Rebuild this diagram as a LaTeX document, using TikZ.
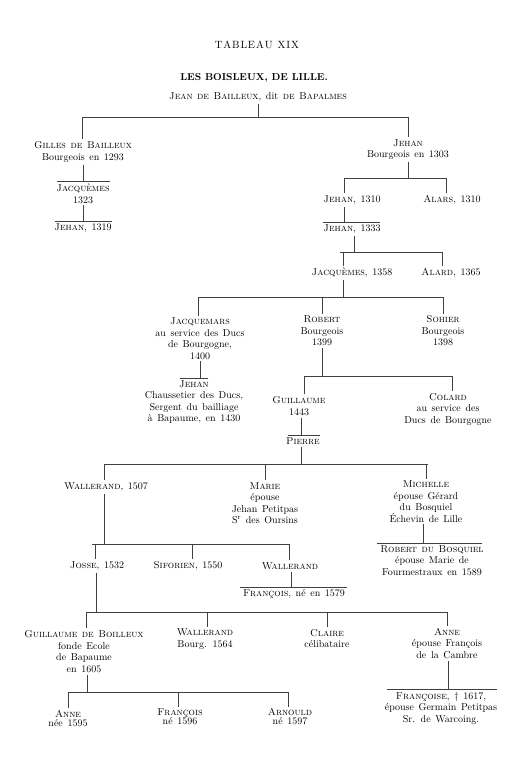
\documentclass[tikz,border=0pt]{standalone}
\newcommand\tfnt{\fontsize{10}{11.5}\selectfont\spaceskip=4.6pt plus 1pt minus 1pt\relax}
\newcommand\tfsm{\fontsize{10}{9}\selectfont\spaceskip=4.6pt plus 1pt minus 1pt\relax}
\newcommand\lsp{\kern0.9pt}
\tikzset{
  t/.style={align=center, font=\tfnt, inner xsep=1pt, inner ysep=2pt, text=black},
  tsm/.style={t, font=\tfsm},
  ln/.style={line width=0.65pt, draw=black!75},
}
\begin{document}
\begin{tikzpicture}[x=1pt,y=-1pt]
\useasboundingbox[fill=white] (0,0) rectangle (522,768);

% ---------- titles ----------
\node[t, font=\fontsize{10.5}{12}\selectfont] (title) at (257,45) {T\lsp A\lsp B\lsp L\lsp E\lsp A\lsp U\hskip5pt X\lsp I\lsp X};
\node[t, font=\bfseries\fontsize{10}{12}\selectfont] (head) at (254,78) {LES BOISLEUX, DE LILLE.};
\node[t] (root) at (258,97) {\textsc{Jean de Bailleux}, dit \textsc{de Bapalmes}};

% ---------- nodes ----------
\node[t] (gilles) at (83,152) {\textsc{Gilles de Bailleux}\\Bourgeois en 1293};
\node[t] (jacqA) at (83,193.5) {\textsc{Jacquèmes}\\1323};
\node[t] (jeh1319) at (83,228) {\textsc{Jehan}, 1319};

\node[t] (jeh1303) at (408,149.5) {\textsc{Jehan}\\Bourgeois en 1303};
\node[t] (jeh1310) at (352,200) {\textsc{Jehan}, 1310};
\node[t] (alars) at (452,200) {\textsc{Alars}, 1310};
\node[t] (jeh1333) at (352,229) {\textsc{Jehan}, 1333};
\node[t] (jacq1358) at (352,273) {\textsc{Jacquèmes}, 1358};
\node[t] (alard) at (451,273) {\textsc{Alard}, 1365};

\node[t] (jacquemars) at (200,338.5) {\textsc{Jacquemars}\\au service des Ducs\\de Bourgogne,\\1400};
\node[t] (robert) at (322,331) {\textsc{Robert}\\Bourgeois\\1399};
\node[t] (sohier) at (443,331) {\textsc{Sohier}\\Bourgeois\\1398};
\node[t] (jehanC) at (194,402) {\textsc{Jehan}\\Chaussetier des Ducs,\\Sergent du bailliage\\à Bapaume, en 1430};
\node[t] (guill) at (299,406) {\textsc{Guillaume}\\1443};
\node[t] (colard) at (448,409.5) {\textsc{Colard}\\au service des\\Ducs de Bourgogne};
\node[t] (pierre) at (303,441) {\textsc{Pierre}};

\node[t] (wal1507) at (106,487) {\textsc{Wallerand}, 1507};
\node[t] (marie) at (265,503) {\textsc{Marie}\\épouse\\Jehan Petitpas\\S\textsuperscript{r} des Oursins};
\node[t] (michelle) at (426,501.5) {\textsc{Michelle}\\épouse Gérard\\du Bosquiel\\Échevin de Lille};
\node[t] (robertdb) at (432,560.5) {\textsc{Robert du Bosquiel}\\épouse Marie de\\Fourmestraux en 1589};
\node[t] (josse) at (97,566) {\textsc{Josse}, 1532};
\node[t] (siforien) at (188,566) {\textsc{Siforien}, 1550};
\node[t] (walB) at (290,566) {\textsc{Wallerand}};
\node[t] (fr1579) at (294,594) {\textsc{François}, né en 1579};

\node[t] (guilB) at (84,651.5) {\textsc{Guillaume de Boilleux}\\fonde Ecole\\de Bapaume\\en 1605};
\node[t] (wal1564) at (205,639) {\textsc{Wallerand}\\Bourg. 1564};
\node[t] (claire) at (327,638.5) {\textsc{Claire}\\célibataire};
\node[t] (anne) at (447,643.5) {\textsc{Anne}\\épouse François\\de la Cambre};
\node[t] (francoise) at (441,708) {\textsc{Françoise}, \textdagger{} 1617,\\épouse Germain Petitpas\\Sr. de Warcoing.};

\node[tsm] (anne95) at (68,718.5) {\textsc{Anne}\\née 1595};
\node[tsm] (fr96) at (180,717) {\textsc{François}\\né 1596};
\node[tsm] (arnould) at (290,717) {\textsc{Arnould}\\né 1597};

% ---------- connectors ----------
% root
\coordinate (r1) at (82,117); \coordinate (r2) at (408,117);
\draw[ln] (root.south) -- (root.south |- r1);
\draw[ln] (r1) -- (r2);
\draw[ln] (r1) -- (r1 |- gilles.north);
\draw[ln] (r2) -- (r2 |- jeh1303.north);

% Gilles line
\draw[ln] (gilles.south) -- (gilles.south |- jacqA.north);
\draw[ln] ([xshift=-26pt]jacqA.north) -- ([xshift=27pt]jacqA.north);
\draw[ln] (jacqA.south) -- (jacqA.south |- jeh1319.north);
\draw[ln] ([xshift=-28pt]jeh1319.north) -- ([xshift=29pt]jeh1319.north);

% Jehan 1303
\coordinate (b2l) at (344,178); \coordinate (b2r) at (446,178);
\draw[ln] (jeh1303.south) -- (jeh1303.south |- b2l);
\draw[ln] (b2l) -- (b2r);
\draw[ln] (b2l) -- (b2l |- jeh1310.north);
\draw[ln] (b2r) -- (b2r |- alars.north);

% Jehan 1310 -> Jehan 1333
\draw[ln] (b2l |- jeh1310.south) -- (b2l |- jeh1333.north);
\draw[ln] ([xshift=-29pt]jeh1333.north) -- ([xshift=28pt]jeh1333.north);

% Jehan 1333
\coordinate (b4p) at (354,252); \coordinate (b4l) at (343,252); \coordinate (b4r) at (442,252);
\draw[ln] (b4p |- jeh1333.south) -- (b4p);
\draw[ln] ([xshift=-3pt]b4l) -- (b4r);
\draw[ln] (b4l) -- (b4l |- jacq1358.north);
\draw[ln] (b4r) -- (b4r |- alard.north);

% Jacquemes 1358
\coordinate (b5p) at (343,297); \coordinate (b5a) at (198,297);
\coordinate (b5b) at (322,297); \coordinate (b5c) at (443,297);
\draw[ln] (b5p |- jacq1358.south) -- (b5p);
\draw[ln] (b5a) -- (b5c);
\draw[ln] (b5a) -- (b5a |- jacquemars.north);
\draw[ln] (b5b) -- (b5b |- robert.north);
\draw[ln] (b5c) -- (b5c |- sohier.north);

% Jacquemars -> Jehan
\draw[ln] (jacquemars.south) -- (jacquemars.south |- jehanC.north);
\draw[ln] ([xshift=-14pt]jehanC.north) -- ([xshift=14pt]jehanC.north);

% Robert
\coordinate (b7l) at (304,376); \coordinate (b7r) at (452,376);
\draw[ln] (robert.south) -- (robert.south |- b7l);
\draw[ln] (b7l) -- (b7r);
\draw[ln] (b7l) -- (b7l |- guill.north);
\draw[ln] (b7r) -- (b7r |- colard.north);

% Guillaume -> Pierre
\coordinate (v8) at (301,376);
\draw[ln] (v8 |- guill.south) -- (v8 |- pierre.north);
\draw[ln] ([xshift=-15pt]pierre.north) -- ([xshift=17pt]pierre.north);

% Pierre
\coordinate (b9p) at (301,464); \coordinate (b9a) at (104,464);
\coordinate (b9b) at (265,464); \coordinate (b9c) at (426,464);
\draw[ln] (b9p |- pierre.south) -- (b9p);
\draw[ln] (b9a) -- ([xshift=2pt]b9c);
\draw[ln] (b9a) -- (b9a |- wal1507.north);
\draw[ln] (b9b) -- (b9b |- marie.north);
\draw[ln] (b9c) -- (b9c |- michelle.north);

% Wallerand 1507
\coordinate (b10p) at (104,544); \coordinate (b10a) at (95,544);
\coordinate (b10b) at (192,544); \coordinate (b10c) at (289,544);
\draw[ln] (b10p |- wal1507.south) -- (b10p);
\draw[ln] ([xshift=-3pt]b10a) -- (b10c);
\draw[ln] (b10a) -- (b10a |- josse.north);
\draw[ln] (b10b) -- (b10b |- siforien.north);
\draw[ln] (b10c) -- (b10c |- walB.north);

% Wallerand -> Francois 1579
\coordinate (v11) at (291,544);
\draw[ln] (v11 |- walB.south) -- (v11 |- fr1579.north);
\draw[ln] ([xshift=-54pt]fr1579.north) -- ([xshift=53pt]fr1579.north);

% Michelle -> Robert du Bosquiel
\coordinate (v12) at (423,544);
\draw[ln] (v12 |- michelle.south) -- (v12 |- robertdb.north);
\draw[ln] ([xshift=-55pt]robertdb.north) -- ([xshift=50pt]robertdb.north);

% Josse
\coordinate (b13p) at (96,612); \coordinate (b13a) at (86,612);
\coordinate (b13b) at (207,612); \coordinate (b13c) at (327,612); \coordinate (b13d) at (447,612);
\draw[ln] (b13p |- josse.south) -- (b13p);
\draw[ln] (b13a) -- (b13d);
\draw[ln] (b13a) -- (b13a |- guilB.north);
\draw[ln] (b13b) -- (b13b |- wal1564.north);
\draw[ln] (b13c) -- (b13c |- claire.north);
\draw[ln] (b13d) -- (b13d |- anne.north);

% Anne -> Francoise
\coordinate (v14) at (448,612);
\draw[ln] (v14 |- anne.south) -- (v14 |- francoise.north);
\draw[ln] ([xshift=-54pt]francoise.north) -- ([xshift=56pt]francoise.north);

% Guillaume de Boilleux
\coordinate (b15p) at (87,692); \coordinate (b15a) at (68,692);
\coordinate (b15b) at (178,692); \coordinate (b15c) at (288,692);
\draw[ln] (b15p |- guilB.south) -- (b15p);
\draw[ln] (b15a) -- (b15c);
\draw[ln] (b15a) -- (b15a |- anne95.north);
\draw[ln] (b15b) -- (b15b |- fr96.north);
\draw[ln] (b15c) -- (b15c |- arnould.north);
\end{tikzpicture}
\end{document}
